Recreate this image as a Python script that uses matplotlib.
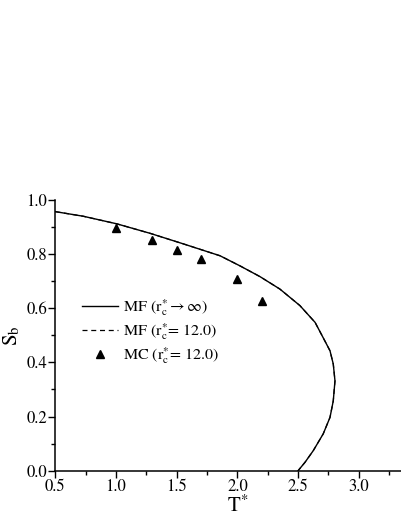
import matplotlib
matplotlib.use("Agg")
import matplotlib.pyplot as plt
from matplotlib.ticker import MultipleLocator

plt.rcParams['font.family'] = ['STIXGeneral', 'DejaVu Serif']
plt.rcParams['mathtext.fontset'] = 'stix'

# MF (r_c* -> infinity) curve
mf_T = [0.5, 0.73, 1.006, 1.28, 1.554, 1.857, 2.02, 2.186, 2.35, 2.515, 2.64, 2.72, 2.763,
        2.79, 2.804, 2.79, 2.763, 2.707, 2.625, 2.557, 2.5]
mf_S = [0.957, 0.940, 0.912, 0.877, 0.838, 0.794, 0.757, 0.717, 0.671, 0.610, 0.548, 0.480, 0.443,
        0.394, 0.332, 0.258, 0.197, 0.136, 0.074, 0.031, 0.0]
# MF (r_c* = 12.0) curve (coincides with the one above)
mf12_T = mf_T
mf12_S = mf_S
# MC (r_c* = 12.0)
mc_T = [1.0, 1.3, 1.5, 1.7, 2.0, 2.2]
mc_S = [0.895, 0.852, 0.817, 0.781, 0.707, 0.626]

fig = plt.figure(figsize=(4.01, 5.18), dpi=100)
ax = fig.add_axes([0.138, 0.0913, 0.908, 0.5226])

ax.plot(mf12_T, mf12_S, color='black', lw=0.9, ls=(0, (4, 3)),
        label=r'MF ($\mathrm{r}_\mathrm{c}^{*}$= 12.0)')
ax.plot(mf_T, mf_S, color='black', lw=1.0,
        label=r'MF ($\mathrm{r}_\mathrm{c}^{*} \rightarrow \infty$)')
ax.plot(mc_T, mc_S, ls='none', marker='^', color='black', ms=5.5,
        label=r'MC ($\mathrm{r}_\mathrm{c}^{*}$= 12.0)')

handles, labels = ax.get_legend_handles_labels()
order = [1, 0, 2]
ax.legend([handles[i] for i in order], [labels[i] for i in order], frameon=False,
          loc='upper left', bbox_to_anchor=(0.055, 0.665), fontsize=11.5,
          handlelength=2.3, handletextpad=0.3, labelspacing=0.2, borderaxespad=0)

ax.set_xlim(0.5, 3.5)
ax.set_ylim(0.0, 1.0)
ax.xaxis.set_minor_locator(MultipleLocator(0.25))
ax.yaxis.set_minor_locator(MultipleLocator(0.1))
ax.set_xticks([0.5, 1.0, 1.5, 2.0, 2.5, 3.0])
ax.set_xticklabels(['0.5', '1.0', '1.5', '2.0', '2.5', '3.0'])
ax.set_yticks([0.0, 0.2, 0.4, 0.6, 0.8, 1.0])
ax.set_yticklabels(['0.0', '0.2', '0.4', '0.6', '0.8', '1.0'])
ax.tick_params(which='major', direction='out', length=5, width=1, labelsize=12, pad=1)
ax.tick_params(which='minor', direction='out', length=3, width=1)
for s in ['top', 'right']:
    ax.spines[s].set_visible(False)
for s in ['left', 'bottom']:
    ax.spines[s].set_linewidth(1.1)

ax.set_xlabel(r'T$^{*}$', fontsize=15, labelpad=0)
ax.set_ylabel(r'S$_{\mathrm{b}}$', fontsize=15, labelpad=3)

fig.savefig('out.png', dpi=100)
